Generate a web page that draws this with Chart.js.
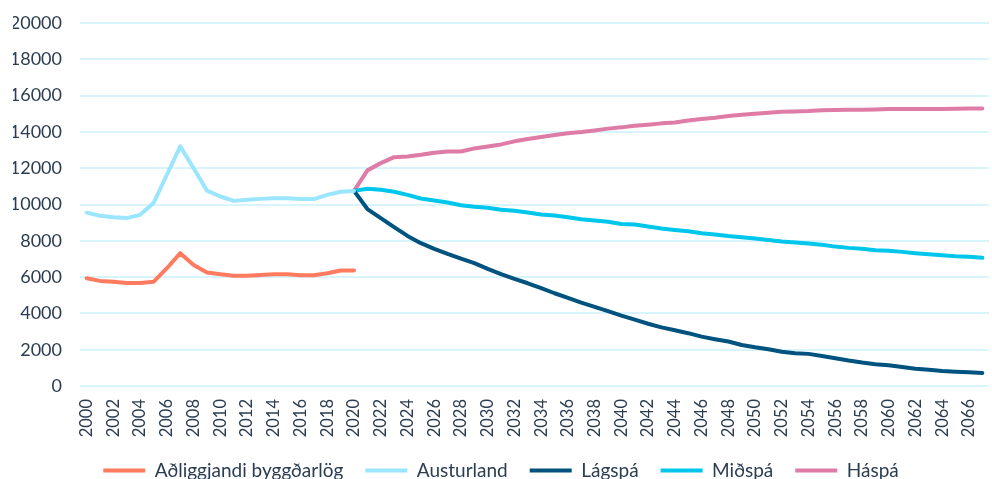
<!DOCTYPE html>
<html lang="is">
<head>
<meta charset="UTF-8">
<title>Íbúaspá</title>
<script src="https://cdn.jsdelivr.net/npm/chart.js@4.4.0/dist/chart.umd.min.js"></script>
<style>
    html, body { margin: 0; padding: 0; background: #fff; }
    .wrap { width: 992px; height: 479px; position: relative; }
</style>
</head>
<body>
<div class="wrap"><canvas id="chart"></canvas></div>
<script>
    // Ár (flokkar á x-ás)
    const years = [
        2000, 2001, 2002, 2003, 2004, 2005, 2006, 2007, 2008, 2009,
        2010, 2011, 2012, 2013, 2014, 2015, 2016, 2017, 2018, 2019,
        2020, 2021, 2022, 2023, 2024, 2025, 2026, 2027, 2028, 2029,
        2030, 2031, 2032, 2033, 2034, 2035, 2036, 2037, 2038, 2039,
        2040, 2041, 2042, 2043, 2044, 2045, 2046, 2047, 2048, 2049,
        2050, 2051, 2052, 2053, 2054, 2055, 2056, 2057, 2058, 2059,
        2060, 2061, 2062, 2063, 2064, 2065, 2066, 2067
    ];

    // 2000-2020
    const adliggjandi = [5940, 5790, 5740, 5680, 5680, 5740, 6490, 7320, 6670, 6250,
        6160, 6070, 6070, 6120, 6160, 6160, 6100, 6100, 6210, 6360, 6360];
    const austurland = [9550, 9380, 9300, 9250, 9430, 10080, 11640, 13200, 12000, 10760,
        10440, 10200, 10260, 10310, 10350, 10350, 10300, 10300, 10530, 10700, 10750];

    // 2020-2067
    const lagspa = [10750, 9750, 9250, 8750, 8270, 7870, 7560, 7280, 7020, 6770,
        6450, 6160, 5900, 5660, 5390, 5110, 4850, 4590, 4360, 4120,
        3880, 3660, 3430, 3230, 3070, 2910, 2720, 2580, 2450, 2260,
        2130, 2020, 1890, 1800, 1770, 1650, 1530, 1400, 1290, 1200,
        1140, 1050, 950, 900, 830, 790, 760, 720];
    const midspa = [10750, 10870, 10810, 10700, 10530, 10330, 10220, 10110, 9960, 9870,
        9820, 9710, 9650, 9560, 9450, 9390, 9300, 9190, 9120, 9050,
        8930, 8900, 8790, 8680, 8600, 8530, 8420, 8350, 8260, 8190,
        8130, 8050, 7960, 7900, 7850, 7780, 7680, 7610, 7560, 7480,
        7450, 7390, 7320, 7260, 7210, 7150, 7120, 7060];
    const haspa = [10750, 11880, 12280, 12610, 12650, 12740, 12850, 12920, 12920, 13090,
        13200, 13310, 13480, 13610, 13720, 13830, 13920, 13990, 14080, 14180,
        14250, 14340, 14400, 14470, 14520, 14630, 14710, 14780, 14870, 14950,
        15000, 15060, 15110, 15130, 15150, 15190, 15200, 15220, 15220, 15240,
        15260, 15260, 15260, 15260, 15260, 15280, 15290, 15290];

    // fylla upp í með null svo röðin passi við árin
    function fromYear(start, values) {
        const out = years.map(() => null);
        const i0 = years.indexOf(start);
        values.forEach((v, i) => { out[i0 + i] = v; });
        return out;
    }

    const textColor = "#2b3d52";
    const family = "Lato, 'Open Sans', sans-serif";

    function line(label, data, color) {
        return {
            label: label,
            data: data,
            borderColor: color,
            backgroundColor: color,
            borderWidth: 4,
            borderCapStyle: "round",
            borderJoinStyle: "round",
            pointRadius: 0,
            pointHoverRadius: 0,
            tension: 0,
            fill: false,
            spanGaps: false,
        };
    }

    new Chart(document.getElementById("chart"), {
        type: "line",
        data: {
            labels: years,
            datasets: [
                line("Aðliggjandi byggðarlög", fromYear(2000, adliggjandi), "#ff7b5f"),
                line("Austurland", fromYear(2000, austurland), "#9be6ff"),
                line("Lágspá", fromYear(2020, lagspa), "#00527f"),
                line("Miðspá", fromYear(2020, midspa), "#00c6ec"),
                line("Háspá", fromYear(2020, haspa), "#de7ba7"),
            ],
        },
        options: {
            responsive: true,
            maintainAspectRatio: false,
            animation: false,
            layout: { padding: { left: 13, right: 3, top: 23, bottom: -11 } },
            plugins: {
                tooltip: { enabled: false },
                legend: {
                    position: "bottom",
                    labels: {
                        color: textColor,
                        font: { family: family, size: 19 },
                        usePointStyle: true,
                        pointStyle: "line",
                        pointStyleWidth: 42,
                        padding: 22,
                    },
                },
            },
            scales: {
                x: {
                    offset: true,
                    grid: { display: false, drawTicks: false, tickLength: 0 },
                    border: { display: false },
                    ticks: {
                        color: textColor,
                        font: { family: family, size: 16.5 },
                        autoSkip: false,
                        minRotation: 90,
                        maxRotation: 90,
                        padding: 13,
                        callback: function (val, idx) {
                            return idx % 2 === 0 ? String(years[idx]) : "";
                        },
                    },
                    afterFit: function (scale) {
                        scale.paddingLeft = 0;
                        scale.paddingRight = 0;
                        scale.height = 53;
                    },
                },
                y: {
                    min: 0,
                    max: 20000,
                    grid: { color: "#d8f4fc", lineWidth: 2, drawTicks: false },
                    border: { display: false },
                    ticks: {
                        stepSize: 2000,
                        color: textColor,
                        font: { family: family, size: 18 },
                        padding: 18,
                        callback: (v) => String(v),
                    },
                    afterFit: function (scale) {
                        scale.width = 67;
                        scale.paddingTop = 0;
                        scale.paddingBottom = 0;
                    },
                },
            },
        },
    });
</script>
</body>
</html>
